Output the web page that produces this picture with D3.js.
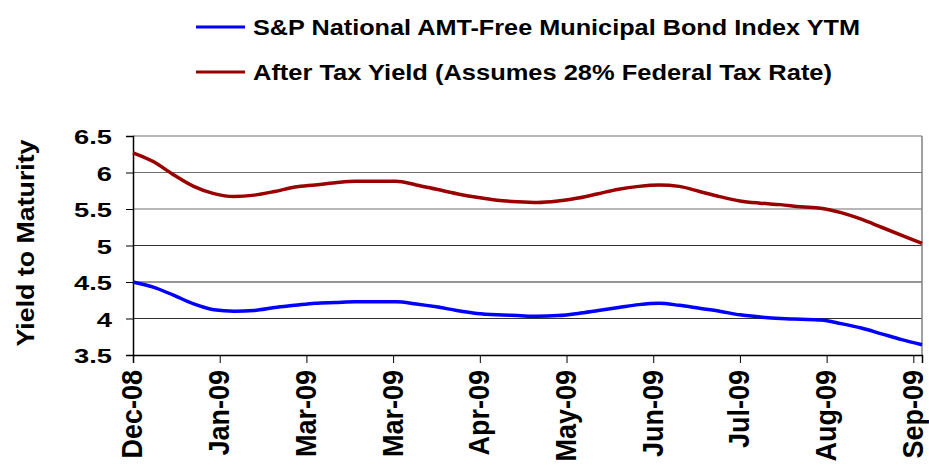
<!DOCTYPE html>
<html>
<head>
<meta charset="utf-8">
<script src="https://cdn.jsdelivr.net/npm/d3@7"></script>
<style>
  body { margin: 0; background: #fff; }
  text { font-family: Arial, "Liberation Sans", sans-serif; font-weight: bold; fill: #000; }
</style>
</head>
<body>
<svg id="chart"></svg>
<script>
const width = 929, height = 468;

// weekly observations starting 31 Dec 2008, axis labelled every 30 days
const startDate = new Date(2008, 11, 31);
const tickLabels = ["Dec-08", "Jan-09", "Mar-09", "Mar-09", "Apr-09", "May-09", "Jun-09", "Jul-09", "Aug-09", "Sep-09"];
const yTicks = [3.5, 4, 4.5, 5, 5.5, 6, 6.5];

const muniYtm = [4.50, 4.43, 4.32, 4.20, 4.12, 4.10, 4.11, 4.15, 4.18, 4.21, 4.22, 4.23, 4.23, 4.23,
  4.20, 4.16, 4.11, 4.07, 4.05, 4.04, 4.03, 4.04, 4.07, 4.11, 4.15, 4.19, 4.21, 4.18, 4.14,
  4.10, 4.05, 4.02, 4.00, 3.99, 3.98, 3.93, 3.87, 3.79, 3.71, 3.64];
const afterTax = [6.27, 6.15, 5.97, 5.81, 5.71, 5.67, 5.69, 5.74, 5.80, 5.83, 5.86, 5.88, 5.88, 5.88,
  5.83, 5.77, 5.71, 5.66, 5.62, 5.60, 5.59, 5.61, 5.65, 5.71, 5.77, 5.81, 5.83, 5.81, 5.74,
  5.67, 5.61, 5.58, 5.56, 5.53, 5.51, 5.45, 5.36, 5.25, 5.14, 5.03];

const seriesNames = ["S&P National AMT-Free Municipal Bond Index YTM", "After Tax Yield (Assumes 28% Federal Tax Rate)"];
const seriesColors = ["#0000ff", "#990000"];

const dates = muniYtm.map((d, i) => d3.timeDay.offset(startDate, 7 * i));
const tickDates = tickLabels.map((d, i) => d3.timeDay.offset(startDate, 30 * i));

const svg = d3.select("#chart").attr("width", width).attr("height", height);

const plotL = 133, plotR = 922, plotT = 136, plotB = 355;
const x = d3.scaleTime().domain([dates[0], dates[dates.length - 1]]).range([plotL, plotR]);
const y = d3.scaleLinear().domain([3.5, 6.5]).range([plotB, plotT]);

// grid lines
svg.append("g")
    .selectAll("line")
    .data(yTicks.slice(1))
    .join("line")
    .attr("x1", plotL).attr("x2", plotR)
    .attr("y1", d => y(d)).attr("y2", d => y(d))
    .attr("stroke", d => d >= 5.5 ? "#707070" : "#303030")
    .attr("stroke-width", 1.2);

// right border of plot area
svg.append("line")
    .attr("x1", plotR).attr("x2", plotR).attr("y1", plotT).attr("y2", plotB)
    .attr("stroke", "#808080").attr("stroke-width", 1.5);

// y axis
const yAxis = svg.append("g")
    .attr("transform", `translate(${plotL},0)`)
    .call(d3.axisLeft(y).tickValues(yTicks).tickSize(7).tickPadding(0).tickFormat(d3.format("")));
yAxis.select(".domain").attr("stroke", "#000").attr("stroke-width", 1.5);
yAxis.selectAll(".tick line").attr("stroke", "#000");
yAxis.selectAll(".tick text")
    .attr("x", -21 / 1.3)
    .attr("dy", "0.36em")
    .attr("transform", "scale(1.3,1)")
    .style("font-size", "21px")
    .style("font-family", "Arial, 'Liberation Sans', sans-serif")
    .style("font-weight", "bold");

// x axis
const xAxis = svg.append("g")
    .attr("transform", `translate(0,${plotB})`)
    .call(d3.axisBottom(x)
        .tickValues(tickDates)
        .tickSize(8)
        .tickFormat((d, i) => tickLabels[i]));
xAxis.select(".domain").attr("stroke", "#000").attr("stroke-width", 1.5);
xAxis.selectAll(".tick line").attr("stroke", "#000");
xAxis.selectAll(".tick text")
    .attr("x", 0).attr("y", 0)
    .attr("dy", "0.3em")
    .attr("text-anchor", "end")
    .attr("transform", "translate(0,15) scale(1.1,1) rotate(-90)")
    .style("font-size", "27px")
    .style("font-family", "Arial, 'Liberation Sans', sans-serif")
    .style("font-weight", "bold");

// y axis title
svg.append("text")
    .attr("transform", "translate(34,243) rotate(-90)")
    .attr("text-anchor", "middle")
    .attr("textLength", 207)
    .attr("lengthAdjust", "spacingAndGlyphs")
    .style("font-size", "24px")
    .text("Yield to Maturity");

// lines
const line = d3.line()
    .x((d, i) => x(dates[i]))
    .y(d => y(d))
    .curve(d3.curveMonotoneX);

[muniYtm, afterTax].forEach((vals, k) => {
    svg.append("path")
        .datum(vals)
        .attr("fill", "none")
        .attr("stroke", seriesColors[k])
        .attr("stroke-width", 3.5)
        .attr("stroke-linejoin", "round")
        .attr("d", line);
});

// legend
const legendY = [27, 72];
const legendLen = [607, 579];
const legend = svg.append("g");
seriesNames.forEach((name, k) => {
    legend.append("line")
        .attr("x1", 196).attr("x2", 245)
        .attr("y1", legendY[k]).attr("y2", legendY[k])
        .attr("stroke", seriesColors[k]).attr("stroke-width", 3);
    legend.append("text")
        .attr("x", 253).attr("y", legendY[k] + 8)
        .attr("textLength", legendLen[k])
        .attr("lengthAdjust", "spacingAndGlyphs")
        .style("font-size", "22px")
        .text(name);
});
</script>
</body>
</html>
